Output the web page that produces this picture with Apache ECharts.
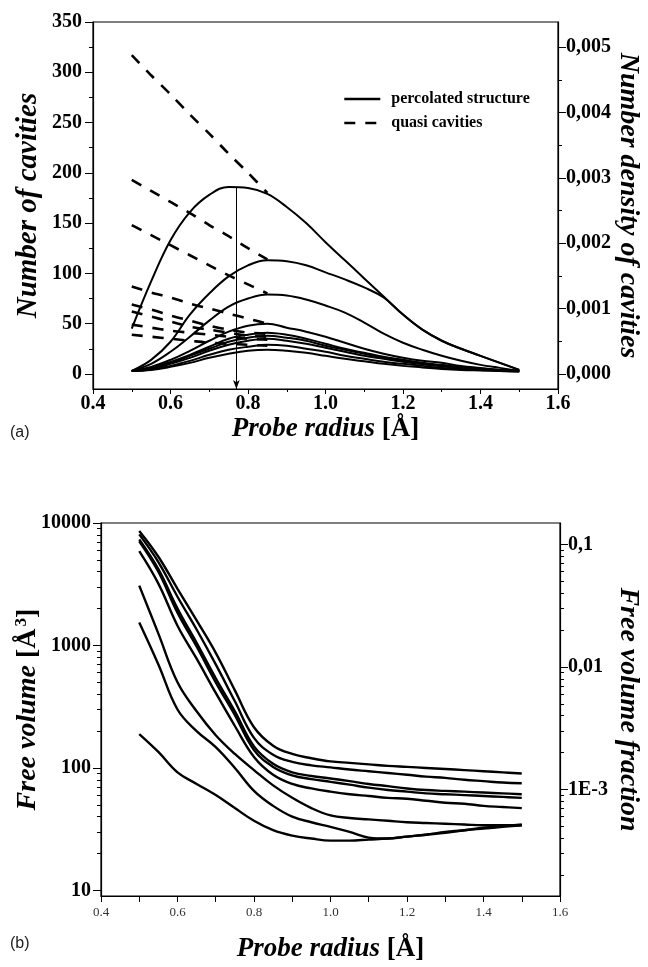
<!DOCTYPE html>
<html>
<head>
<meta charset="utf-8">
<title>Cavities and free volume vs probe radius</title>
<script src="https://cdn.jsdelivr.net/npm/echarts@6.0.0/dist/echarts.min.js"></script>
<style>
  html, body { margin: 0; padding: 0; background: #fff; }
  #chart { width: 648px; height: 967px; }
</style>
</head>
<body>
<div id="chart"></div>
<script>
// probe radius samples (Å)
var radius = [0.5, 0.55, 0.6, 0.65, 0.7, 0.75, 0.8, 0.85, 0.9, 0.95, 1.0,
              1.05, 1.1, 1.15, 1.2, 1.25, 1.3, 1.35, 1.4, 1.45, 1.5];
var quasiRadius = [0.5, 0.55, 0.6, 0.65, 0.7, 0.75, 0.8, 0.85];

// (a) number of cavities - percolated structure (solid)
var percA = [45, 92, 133, 161, 178, 186, 185, 179, 166, 150, 131, 113, 95, 77, 59, 44, 33, 25, 18, 11, 4];
var percB = [3, 14, 32, 59, 80, 97, 108, 113, 112, 108, 101, 94, 86, 76, 59, 44, 33, 25, 18, 11, 4];
var percC = [3, 10, 22, 37, 53, 67, 75, 79, 78, 74, 68, 61, 51, 40, 31, 24, 18, 13, 9, 6, 3];
var percD = [3, 7, 14, 23, 33, 42, 48, 50, 46, 42, 37, 31, 25, 20, 16, 13, 11, 8, 6, 4, 3];
var percE = [3, 6, 12, 19, 27, 35, 39, 41, 39, 35, 30, 25, 21, 17, 14, 11, 9, 7, 5, 4, 3];
var percF = [3, 5.5, 11, 18, 25, 32, 36, 38, 36, 33, 28, 24, 20, 16, 13, 10, 8, 6, 5, 4, 3];
var percG = [3, 5, 10, 16, 23, 29, 33, 35, 33, 30, 26, 22, 18, 15, 12, 9.5, 7.5, 6, 4.5, 3.5, 3];
var percH = [3, 4.5, 8, 13, 19, 24, 27, 29, 28, 25, 22, 18, 15, 12, 10, 8, 6, 5, 4, 3, 2.5];
var percI = [3, 4, 7, 11, 16, 20, 23, 24, 23, 21, 18, 15, 12.5, 10, 8, 6.5, 5, 4, 3.5, 3, 2.5];
var percolated = [percA, percB, percC, percD, percE, percF, percG, percH, percI];

// (a) quasi cavities (dashed)
var quasiA = [317, 297, 278, 258, 239, 219, 200, 180];
var quasiB = [193, 182, 171, 160, 148, 137, 125, 114];
var quasiC = [148, 138, 128, 118, 108, 98, 89, 80];
var quasiD = [87, 81, 76, 70, 65, 60, 55, 50];
var quasiE = [69, 64, 58, 53, 48, 44, 41, 40];
var quasiF = [62, 57, 52, 47, 44, 41, 38, 37];
var quasiG = [49, 46, 43, 41, 39, 37, 35, 34];
var quasiH = [39, 37, 35, 33, 31, 30, 29, 28];
var quasi = [quasiA, quasiB, quasiC, quasiD, quasiE, quasiF, quasiG, quasiH];

// peak of the top curve, marked by the arrow
var peakRadius = 0.77;
var peakCount = 186;

// (b) free volume (Å^3)
var vol1 = [8600, 5300, 2900, 1600, 870, 430, 215, 152, 130, 120, 113, 110, 107, 104, 102, 100, 98, 96, 94, 92, 90];
var vol2 = [8070, 4800, 2500, 1350, 700, 350, 176, 128, 112, 105, 101, 97, 94, 91, 88, 85, 83, 80, 78, 76, 75];
var vol3 = [7350, 4200, 2000, 1050, 540, 290, 150, 108, 92, 86, 82, 78, 74, 71, 68, 66, 65, 64, 63, 62, 61];
var vol4 = [7100, 4000, 1850, 980, 500, 270, 140, 102, 87, 81, 77, 73, 69, 66, 64, 62, 61, 60, 59, 58, 57];
var vol5 = [5890, 3200, 1450, 780, 410, 220, 123, 88, 74, 68, 64, 61, 59, 57, 56, 54, 52, 51, 49, 48, 47];
var vol6 = [3080, 1250, 500, 290, 185, 130, 96, 72, 57, 47, 41, 39, 38, 37, 36, 35.5, 35, 34.5, 34, 34, 34];
var vol7 = [1540, 700, 300, 200, 148, 100, 65, 49, 40, 36, 33, 30, 27, 26.5, 27.5, 28.5, 29.5, 31, 32, 33, 34];
var vol8 = [189, 135, 92, 74, 60, 47, 37, 31, 28, 26.5, 25.5, 25.5, 26, 26.5, 27.5, 28.5, 30, 31, 32.5, 33.5, 34.5];
var volumes = [vol1, vol2, vol3, vol4, vol5, vol6, vol7, vol8];

// axes ranges and tick labels
var cavMin = -15, cavMax = 350;
var cavTicks = [0, 50, 100, 150, 200, 250, 300, 350];
var cavMinor = [25, 75, 125, 175, 225, 275, 325];
var densPerCavity = 0.005 / 325;            // right axis of (a)
var densTicks = [0, 0.001, 0.002, 0.003, 0.004, 0.005];
var densLabels = ['0,000', '0,001', '0,002', '0,003', '0,004', '0,005'];
var densMinor = [0.0005, 0.0015, 0.0025, 0.0035, 0.0045];
var volMin = 9, volMax = 10000;
var volTicks = [10, 100, 1000, 10000];
var volMinor = [20, 30, 40, 50, 60, 70, 80, 90, 200, 300, 400, 500, 600, 700, 800, 900,
                2000, 3000, 4000, 5000, 6000, 7000, 8000, 9000];
var fracPerVolume = 0.1 / 6680;              // right axis of (b)
var fracTicks = [0.001, 0.01, 0.1];
var fracLabels = ['1E-3', '0,01', '0,1'];
var fracMinor = [0.0002, 0.0003, 0.0004, 0.0005, 0.0006, 0.0007, 0.0008, 0.0009,
                 0.002, 0.003, 0.004, 0.005, 0.006, 0.007, 0.008, 0.009,
                 0.02, 0.03, 0.04, 0.05, 0.06, 0.07, 0.08, 0.09];

var serif = "'Liberation Serif', 'Times New Roman', serif";

var chart = echarts.init(document.getElementById('chart'), null, { renderer: 'canvas' });

function pairs(xs, ys) {
  return xs.map(function (x, i) { return [x, ys[i]]; });
}
function labelOf(ticks, labels) {
  return function (v) {
    for (var i = 0; i < ticks.length; i++) {
      if (Math.abs(v - ticks[i]) <= Math.abs(ticks[i]) * 1e-6 + 1e-12) return labels[i];
    }
    return '';
  };
}
function nameStyle(size) {
  return {
    rich: {
      i: { fontFamily: serif, fontSize: size, fontStyle: 'italic', fontWeight: 'bold', color: '#000' },
      n: { fontFamily: serif, fontSize: size, fontWeight: 'bold', color: '#000' },
      s: { fontFamily: serif, fontSize: 17, fontWeight: 'bold', color: '#000', verticalAlign: 'top', padding: [0, 0, 12, 2] }
    }
  };
}
// minor tick overlay on the same grid as a main axis
function minorAxis(grid, pos, type, min, max, values) {
  return {
    type: type, gridIndex: grid, position: pos, min: min, max: max,
    axisLine: { show: false }, splitLine: { show: false },
    axisLabel: { show: false },
    axisTick: { show: true, length: 4, customValues: values, lineStyle: { color: '#000', width: 1 } }
  };
}

var series = [];
percolated.forEach(function (vals, i) {
  var s = {
    name: 'percolated structure', type: 'line', xAxisIndex: 0, yAxisIndex: 0,
    data: pairs(radius, vals), smooth: 0.4, symbol: 'none', color: '#000',
    lineStyle: { color: '#000', width: 2 }, z: 3
  };
  if (i === 0) {
    s.markLine = {
      silent: true, symbol: ['none', 'arrow'], symbolSize: [5, 9], animation: false,
      label: { show: false },
      lineStyle: { color: '#000', width: 1, type: 'solid' },
      data: [[{ coord: [peakRadius, peakCount] }, { coord: [peakRadius, cavMin] }]]
    };
  }
  series.push(s);
});
quasi.forEach(function (vals) {
  series.push({
    name: 'quasi cavities', type: 'line', xAxisIndex: 0, yAxisIndex: 0,
    data: pairs(quasiRadius, vals), smooth: 0.3, symbol: 'none', color: '#000',
    lineStyle: { color: '#000', width: 2.6, type: [11, 10] }, z: 2
  });
});
volumes.forEach(function (vals, i) {
  series.push({
    name: 'free volume ' + (i + 1), type: 'line', xAxisIndex: 1, yAxisIndex: 4,
    data: pairs(radius, vals), smooth: 0.4, symbol: 'none', color: '#000',
    lineStyle: { color: '#000', width: 2.4 }
  });
});

var option = {
  animation: false,
  backgroundColor: '#fff',
  grid: [
    { left: 93, top: 22, width: 465, height: 367, outerBoundsMode: 'none', containLabel: false,
      show: true, borderColor: '#000', borderWidth: 1.2 },
    { left: 101, top: 523, width: 459, height: 373, outerBoundsMode: 'none', containLabel: false,
      show: true, borderColor: '#000', borderWidth: 1.2 }
  ],
  legend: {
    left: 338, top: 86, orient: 'vertical', itemWidth: 36, itemHeight: 12, itemGap: 8,
    selectedMode: false,
    data: ['percolated structure', 'quasi cavities'],
    itemStyle: { opacity: 0 },
    lineStyle: { width: 2.6 },
    textStyle: { fontFamily: serif, fontSize: 16, fontWeight: 'bold', color: '#000', padding: [0, 0, 0, 6] }
  },
  xAxis: [
    {
      type: 'value', gridIndex: 0, min: 0.4, max: 1.6, interval: 0.2,
      name: '{i|Probe radius }{n|[Å]}', nameLocation: 'middle', nameGap: 27, nameMoveOverlap: false,
      nameTextStyle: nameStyle(27),
      axisLine: { onZero: false, lineStyle: { color: '#000', width: 1.2 } },
      axisTick: { length: 5, lineStyle: { color: '#000' } },
      minorTick: { show: true, splitNumber: 2, length: 3, lineStyle: { color: '#000' } },
      splitLine: { show: false },
      axisLabel: { margin: 5, fontFamily: serif, fontSize: 20, fontWeight: 'bold', color: '#000',
                   formatter: function (v) { return v.toFixed(1); } }
    },
    {
      type: 'value', gridIndex: 1, min: 0.4, max: 1.6, interval: 0.2,
      name: '{i|Probe radius }{n|[Å]}', nameLocation: 'middle', nameGap: 40, nameMoveOverlap: false,
      nameTextStyle: nameStyle(27),
      axisLine: { onZero: false, lineStyle: { color: '#000', width: 1.2 } },
      axisTick: { length: 6, lineStyle: { color: '#000' } },
      minorTick: { show: true, splitNumber: 2, length: 6, lineStyle: { color: '#000' } },
      splitLine: { show: false },
      axisLabel: { margin: 10, fontFamily: serif, fontSize: 13, color: '#333',
                   formatter: function (v) { return v.toFixed(1); } }
    }
  ],
  yAxis: [
    {
      type: 'value', gridIndex: 0, position: 'left', min: cavMin, max: cavMax,
      name: '{i|Number of cavities}', nameLocation: 'middle', nameGap: 50, nameRotate: 90, nameMoveOverlap: false,
      nameTextStyle: nameStyle(29),
      axisLine: { onZero: false, lineStyle: { color: '#000', width: 1.2 } },
      axisTick: { length: 8, customValues: cavTicks, lineStyle: { color: '#000' } },
      splitLine: { show: false },
      axisLabel: { customValues: cavTicks, margin: 11, fontFamily: serif, fontSize: 20, fontWeight: 'bold', color: '#000' }
    },
    {
      type: 'value', gridIndex: 0, position: 'right',
      min: cavMin * densPerCavity, max: cavMax * densPerCavity,
      name: '{i|Number density of cavities}', nameLocation: 'middle', nameGap: 56, nameRotate: -90, nameMoveOverlap: false,
      nameTextStyle: nameStyle(28),
      axisLine: { onZero: false, lineStyle: { color: '#000', width: 1.2 } },
      axisTick: { length: 8, customValues: densTicks, lineStyle: { color: '#000' } },
      splitLine: { show: false },
      axisLabel: { customValues: densTicks, margin: 8, fontFamily: serif, fontSize: 20, fontWeight: 'bold', color: '#000',
                   formatter: labelOf(densTicks, densLabels) }
    },
    minorAxis(0, 'left', 'value', cavMin, cavMax, cavMinor),
    minorAxis(0, 'right', 'value', cavMin * densPerCavity, cavMax * densPerCavity, densMinor),
    {
      type: 'log', gridIndex: 1, position: 'left', min: volMin, max: volMax,
      name: '{i|Free volume }{n|[Å}{s|3}{n|]}', nameLocation: 'middle', nameGap: 59, nameRotate: 90, nameMoveOverlap: false,
      nameTextStyle: nameStyle(28),
      axisLine: { onZero: false, lineStyle: { color: '#000', width: 1.2 } },
      axisTick: { length: 8, customValues: volTicks, lineStyle: { color: '#000' } },
      splitLine: { show: false },
      axisLabel: { customValues: volTicks, margin: 10, fontFamily: serif, fontSize: 20, fontWeight: 'bold', color: '#000',
                   formatter: function (v) { return String(Math.round(v)); } }
    },
    {
      type: 'log', gridIndex: 1, position: 'right',
      min: volMin * fracPerVolume, max: volMax * fracPerVolume,
      name: '{i|Free volume fraction}', nameLocation: 'middle', nameGap: 54, nameRotate: -90, nameMoveOverlap: false,
      nameTextStyle: nameStyle(28),
      axisLine: { onZero: false, lineStyle: { color: '#000', width: 1.2 } },
      axisTick: { length: 8, customValues: fracTicks, lineStyle: { color: '#000' } },
      splitLine: { show: false },
      axisLabel: { customValues: fracTicks, margin: 8, fontFamily: serif, fontSize: 20, fontWeight: 'bold', color: '#000',
                   formatter: labelOf(fracTicks, fracLabels) }
    },
    minorAxis(1, 'left', 'log', volMin, volMax, volMinor),
    minorAxis(1, 'right', 'log', volMin * fracPerVolume, volMax * fracPerVolume, fracMinor)
  ],
  graphic: [
    { type: 'text', left: 10, top: 425, style: { text: '(a)', font: '16px "Liberation Sans", Arial, sans-serif', fill: '#222' } },
    { type: 'text', left: 10, top: 936, style: { text: '(b)', font: '16px "Liberation Sans", Arial, sans-serif', fill: '#222' } }
  ],
  series: series
};

chart.setOption(option);
</script>
</body>
</html>
